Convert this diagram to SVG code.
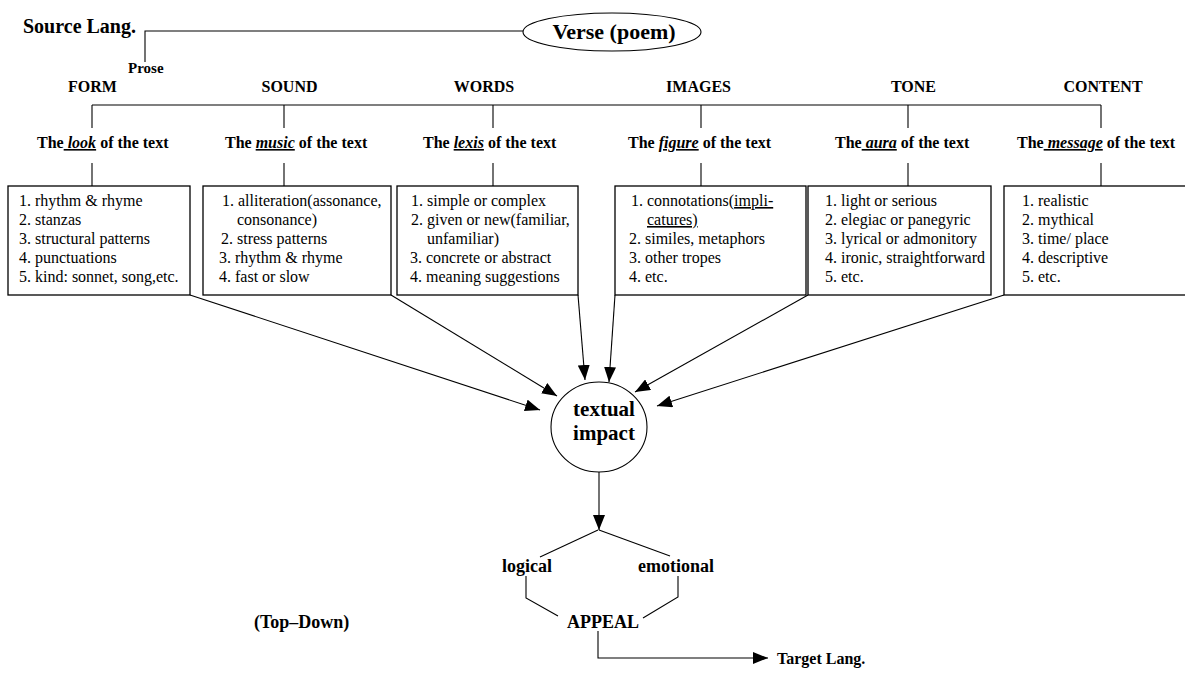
<svg xmlns="http://www.w3.org/2000/svg" width="1185" height="675" viewBox="0 0 1185 675">
<style>
  .b { font-family: "Liberation Serif", "Times New Roman", serif; font-weight: bold; fill: #000; }
  .t { font-family: "Liberation Serif", "Times New Roman", serif; font-size: 16px; fill: #000; }
  .h { font-size: 16px; }
  .lbl { font-size: 16px; }
  .u { text-decoration: underline; }
  .ui { font-style: italic; text-decoration: underline; }
  .box { fill: #fff; stroke: #000; stroke-width: 1.3; }
  .ln { fill: none; stroke: #000; stroke-width: 1.1; }
</style>
<defs>
  <marker id="ah" markerUnits="userSpaceOnUse" markerWidth="16" markerHeight="12" refX="15" refY="6" orient="auto">
    <path d="M0,0 L15,6 L0,12 z" fill="#000"/>
  </marker>
</defs>
<rect width="1185" height="675" fill="#fff"/>

<g id="connectors">
  <polyline class="ln" points="145,62 145,31 523,31"/>
  <line class="ln" x1="92" y1="105" x2="1101" y2="105"/>
  <line class="ln" x1="92" y1="105" x2="92" y2="128"/>
  <line class="ln" x1="284" y1="105" x2="284" y2="128"/>
  <line class="ln" x1="493" y1="105" x2="493" y2="128"/>
  <line class="ln" x1="701" y1="105" x2="701" y2="128"/>
  <line class="ln" x1="908" y1="105" x2="908" y2="128"/>
  <line class="ln" x1="1101" y1="105" x2="1101" y2="128"/>
  <line class="ln" x1="92" y1="163" x2="92" y2="186"/>
  <line class="ln" x1="284" y1="163" x2="284" y2="186"/>
  <line class="ln" x1="493" y1="163" x2="493" y2="186"/>
  <line class="ln" x1="701" y1="163" x2="701" y2="186"/>
  <line class="ln" x1="908" y1="163" x2="908" y2="186"/>
  <line class="ln" x1="1101" y1="163" x2="1101" y2="186"/>
  <line class="ln" x1="190" y1="295" x2="540" y2="410" marker-end="url(#ah)"/>
  <line class="ln" x1="391" y1="295" x2="557" y2="396" marker-end="url(#ah)"/>
  <line class="ln" x1="578" y1="295" x2="585" y2="380" marker-end="url(#ah)"/>
  <line class="ln" x1="615" y1="295" x2="609" y2="382" marker-end="url(#ah)"/>
  <line class="ln" x1="808" y1="295" x2="635" y2="392" marker-end="url(#ah)"/>
  <line class="ln" x1="1004" y1="295" x2="657" y2="406" marker-end="url(#ah)"/>
  <line class="ln" x1="599" y1="472" x2="599" y2="530" marker-end="url(#ah)"/>
  <line class="ln" x1="598" y1="530" x2="540" y2="557"/>
  <line class="ln" x1="599" y1="530" x2="670" y2="556"/>
  <polyline class="ln" points="526,576 526,598 558,616"/>
  <polyline class="ln" points="678,576 678,597 643,618"/>
  <polyline class="ln" points="598,631 598,658 768,658" marker-end="url(#ah)"/>
</g>

<g id="source">
  <text class="b" x="23" y="33" font-size="20">Source Lang.</text>
</g>
<g id="prose">
  <text class="b" x="128" y="73" font-size="15">Prose</text>
</g>
<g id="verse">
  <ellipse cx="612" cy="32" rx="89" ry="19" fill="#fff" stroke="#000" stroke-width="1.1"/>
  <text class="b" x="614" y="39" font-size="22" text-anchor="middle">Verse (poem)</text>
</g>

<g id="form">
  <text class="b h" x="92.5" y="92" text-anchor="middle">FORM</text>
  <text class="b lbl" x="37" y="148">The<tspan class="ui"> look</tspan> of the text</text>
  <rect class="box" x="8" y="186" width="182" height="109"/>
  <text class="t" x="19" y="206">1. rhythm &amp; rhyme</text>
  <text class="t" x="19" y="225">2. stanzas</text>
  <text class="t" x="19" y="244">3. structural patterns</text>
  <text class="t" x="19" y="263">4. punctuations</text>
  <text class="t" x="19" y="282">5. kind: sonnet, song,etc.</text>
</g>

<g id="sound">
  <text class="b h" x="289.5" y="92" text-anchor="middle">SOUND</text>
  <text class="b lbl" x="225" y="148">The <tspan class="ui">music</tspan> of the text</text>
  <rect class="box" x="203" y="186" width="188" height="109"/>
  <text class="t" x="222" y="206">1. alliteration(assonance,</text>
  <text class="t" x="237" y="225">consonance)</text>
  <text class="t" x="221" y="244">2. stress patterns</text>
  <text class="t" x="219" y="263">3. rhythm &amp; rhyme</text>
  <text class="t" x="219" y="282">4. fast or slow</text>
</g>

<g id="words">
  <text class="b h" x="484" y="92" text-anchor="middle">WORDS</text>
  <text class="b lbl" x="423" y="148">The <tspan class="ui">lexis</tspan> of the text</text>
  <rect class="box" x="397" y="186" width="181" height="109"/>
  <text class="t" x="411" y="206">1. simple or complex</text>
  <text class="t" x="411" y="225">2. given or new(familiar,</text>
  <text class="t" x="427" y="244">unfamiliar)</text>
  <text class="t" x="410" y="263">3. concrete or abstract</text>
  <text class="t" x="410" y="282">4. meaning suggestions</text>
</g>

<g id="images">
  <text class="b h" x="698.5" y="92" text-anchor="middle">IMAGES</text>
  <text class="b lbl" x="628" y="148">The <tspan class="ui">figure</tspan> of the text</text>
  <rect class="box" x="615" y="186" width="191" height="109"/>
  <text class="t" x="631" y="206">1. connotations(<tspan class="u">impli-</tspan></text>
  <text class="t u" x="647" y="225">catures)</text>
  <text class="t" x="629" y="244">2. similes, metaphors</text>
  <text class="t" x="629" y="263">3. other tropes</text>
  <text class="t" x="629" y="282">4. etc.</text>
</g>

<g id="tone">
  <text class="b h" x="913.5" y="92" text-anchor="middle">TONE</text>
  <text class="b lbl" x="835" y="148">The<tspan class="ui"> aura</tspan> of the text</text>
  <rect class="box" x="808" y="186" width="183" height="109"/>
  <text class="t" x="825" y="206">1. light or serious</text>
  <text class="t" x="825" y="225">2. elegiac or panegyric</text>
  <text class="t" x="825" y="244">3. lyrical or admonitory</text>
  <text class="t" x="825" y="263">4. ironic, straightforward</text>
  <text class="t" x="825" y="282">5. etc.</text>
</g>

<g id="content">
  <text class="b h" x="1103" y="92" text-anchor="middle">CONTENT</text>
  <text class="b lbl" x="1017" y="148">The<tspan class="ui"> message</tspan> of the text</text>
  <rect class="box" x="1004" y="186" width="200" height="109"/>
  <text class="t" x="1022" y="206">1. realistic</text>
  <text class="t" x="1022" y="225">2. mythical</text>
  <text class="t" x="1022" y="244">3. time/ place</text>
  <text class="t" x="1022" y="263">4. descriptive</text>
  <text class="t" x="1022" y="282">5. etc.</text>
</g>

<g id="impact">
  <ellipse cx="599" cy="427" rx="48" ry="45" fill="#fff" stroke="#000" stroke-width="1.1"/>
  <text class="b" x="604" y="416" font-size="21" text-anchor="middle">textual</text>
  <text class="b" x="604" y="440" font-size="21" text-anchor="middle">impact</text>
</g>

<g id="logical">
  <text class="b" x="502" y="572" font-size="18">logical</text>
</g>
<g id="emotional">
  <text class="b" x="638" y="572" font-size="18">emotional</text>
</g>
<g id="appeal">
  <text class="b" x="567" y="628" font-size="18">APPEAL</text>
</g>
<g id="topdown">
  <text class="b" x="254" y="628" font-size="18">(Top–Down)</text>
</g>
<g id="target">
  <text class="b" x="777" y="664" font-size="16">Target Lang.</text>
</g>
</svg>
